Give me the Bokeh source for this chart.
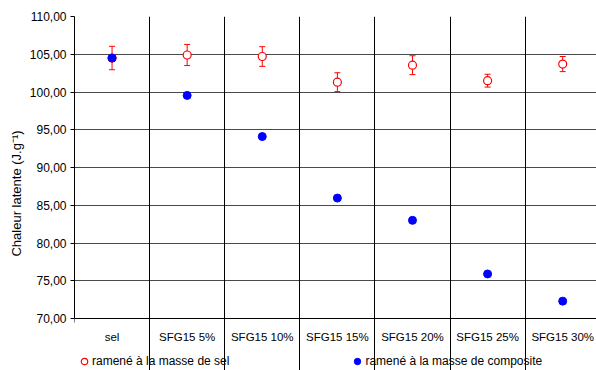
from bokeh.plotting import figure
from bokeh.models import (ColumnDataSource, Range1d, FixedTicker, Whisker, TeeHead,
                          Legend, LegendItem, LinearAxis, Grid)
from bokeh.embed import file_html
from bokeh.resources import INLINE

categories = ["sel", "SFG15 5%", "SFG15 10%", "SFG15 15%", "SFG15 20%", "SFG15 25%", "SFG15 30%"]
sel_values = [104.5, 104.9, 104.7, 101.3, 103.55, 101.5, 103.7]
sel_errors = [1.55, 1.4, 1.3, 1.25, 1.25, 0.85, 1.0]
composite_values = [104.5, 99.55, 94.1, 85.95, 83.0, 75.9, 72.3]
y_ticks = [70, 75, 80, 85, 90, 95, 100, 105, 110]

FONT = "Liberation Sans"

# layout: value axis 70..110 occupies 302 px; the frame continues 52 px lower for labels/legend
Y_MIN, Y_MAX = 70, 110
AXIS_PX, FRAME_PX = 302, 354
y_start = Y_MAX - (Y_MAX - Y_MIN) * FRAME_PX / AXIS_PX

xpos = [i + 0.5 for i in range(len(categories))]
src = ColumnDataSource(dict(
    x=xpos, sel=sel_values, comp=composite_values,
    upper=[v + e for v, e in zip(sel_values, sel_errors)],
    lower=[v - e for v, e in zip(sel_values, sel_errors)],
))

p = figure(width=596, height=370, output_backend="svg", toolbar_location=None,
           x_range=Range1d(0, 6.95), y_range=Range1d(y_start, Y_MAX),
           x_axis_type=None, y_axis_type=None,
           min_border_left=74, min_border_right=0, min_border_top=16, min_border_bottom=0)
p.outline_line_color = None
p.background_fill_color = "white"
p.border_fill_color = "white"

# y axis
yax = LinearAxis(ticker=FixedTicker(ticks=y_ticks), bounds=(Y_MIN, Y_MAX))
yax.major_label_overrides = {t: f"{t:.2f}".replace(".", ",") for t in y_ticks}
yax.axis_label = "Chaleur latente (J.g⁻¹)"
yax.axis_label_text_font = FONT
yax.axis_label_text_font_style = "normal"
yax.axis_label_text_font_size = "13px"
yax.axis_label_text_color = "black"
yax.major_label_text_font = FONT
yax.major_label_text_font_size = "12px"
yax.major_label_text_color = "black"
yax.major_tick_in = 0
yax.major_tick_out = 4
yax.minor_tick_line_color = None
yax.axis_line_color = "black"
yax.major_tick_line_color = "black"
yax.axis_label_standoff = 3
yax.major_label_standoff = 4
p.add_layout(yax, "left")

# x axis, fixed at y = 70
xax = LinearAxis(ticker=FixedTicker(ticks=xpos, minor_ticks=list(range(0, 8))),
                 fixed_location=Y_MIN)
xax.major_label_overrides = {x: c for x, c in zip(xpos, categories)}
xax.major_label_text_font = FONT
xax.major_label_text_font_size = "11.5px"
xax.major_label_text_color = "black"
xax.major_tick_line_color = None
xax.major_tick_in = 0
xax.major_tick_out = 0
xax.minor_tick_in = 0
xax.minor_tick_out = 4
xax.minor_tick_line_color = "black"
xax.axis_line_color = "black"
xax.major_label_standoff = 8
p.add_layout(xax, "below")

# grids
p.add_layout(Grid(dimension=1, ticker=FixedTicker(ticks=y_ticks[1:]),
                  grid_line_color="#4a4a4a", grid_line_width=1))
p.add_layout(Grid(dimension=0, ticker=FixedTicker(ticks=list(range(1, 8))),
                  bounds=(Y_MIN, Y_MAX), grid_line_color="#000000", grid_line_width=1))

# error bars
wh = Whisker(source=src, base="x", upper="upper", lower="lower", dimension="height",
             line_color="red", line_width=1,
             upper_head=TeeHead(size=6, line_color="red", line_width=1),
             lower_head=TeeHead(size=6, line_color="red", line_width=1))
p.add_layout(wh)

r_sel = p.scatter("x", "sel", source=src, marker="circle", size=8,
                  line_color="red", line_width=1.2, fill_color="white")
r_comp = p.scatter("x", "comp", source=src, marker="circle", size=8,
                   line_color="blue", fill_color="blue")

legend = Legend(items=[LegendItem(label="ramené à la masse de sel", renderers=[r_sel]),
                       LegendItem(label="ramené à la masse de composite", renderers=[r_comp])],
                orientation="horizontal", location=(2, 1),
                glyph_width=16, glyph_height=16, label_standoff=0, spacing=120,
                label_text_font=FONT, label_text_font_size="12px", label_text_color="black",
                border_line_color=None, background_fill_alpha=0,
                margin=0, padding=0)
p.add_layout(legend)

open("out.html", "w").write(file_html(p, INLINE))
